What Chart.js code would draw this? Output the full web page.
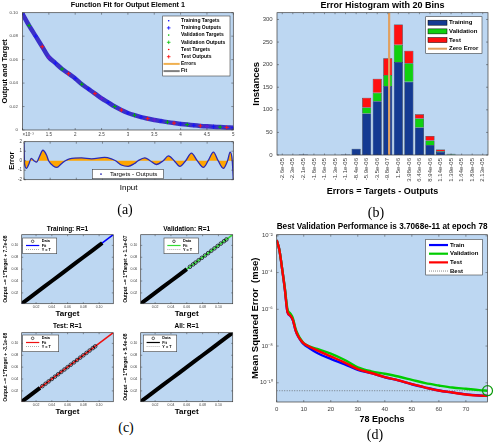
<!DOCTYPE html>
<html>
<head>
<meta charset="utf-8">
<title>Network fit results</title>
<script src="https://cdn.jsdelivr.net/npm/chart.js@4.4.1/dist/chart.umd.min.js"></script>
<style>
  html, body { margin: 0; padding: 0; background: #fff; }
  #fig { position: relative; width: 500px; height: 442px; overflow: hidden; }
  #fig canvas { position: absolute; }
  .panel { position: absolute; font: 14px "Liberation Serif", "DejaVu Serif", serif; color: #000; transform: translate(-50%, -50%); }
</style>
</head>
<body>
<div id="fig">
  <canvas id="fitChart" width="240" height="140" style="left:0px;top:0px"></canvas>
  <canvas id="errChart" width="240" height="56" style="left:0px;top:137px"></canvas>
  <canvas id="histChart" width="250" height="198" style="left:250px;top:0px"></canvas>
  <canvas id="regTrain" width="120" height="98" style="left:0px;top:222px"></canvas>
  <canvas id="regVal" width="120" height="98" style="left:120px;top:222px"></canvas>
  <canvas id="regTest" width="120" height="98" style="left:0px;top:320px"></canvas>
  <canvas id="regAll" width="120" height="98" style="left:120px;top:320px"></canvas>
  <canvas id="perfChart" width="250" height="208" style="left:250px;top:220px"></canvas>
  <div class="panel" style="left:125px;top:210px">(a)</div>
  <div class="panel" style="left:376px;top:213px">(b)</div>
  <div class="panel" style="left:126px;top:428px">(c)</div>
  <div class="panel" style="left:375px;top:435px">(d)</div>
</div>
<script>
// (a) function fit: input (x1e-3) and network output
const fitInput = [1, 1.125, 1.25, 1.375, 1.5, 1.625, 1.75, 1.875, 2, 2.125, 2.25, 2.375, 2.5, 2.625, 2.75, 2.875, 3,
                  3.125, 3.25, 3.375, 3.5, 3.625, 3.75, 3.875, 4, 4.125, 4.25, 4.375, 4.5, 4.625, 4.75, 4.875, 5];
const fitOutput = [0.099, 0.089, 0.080, 0.071, 0.062, 0.057, 0.052, 0.048, 0.044, 0.039, 0.035, 0.031, 0.027, 0.0235, 0.020, 0.017, 0.0145,
                   0.0126, 0.011, 0.0097, 0.0085, 0.0076, 0.0067, 0.0059, 0.0052, 0.0046, 0.0040, 0.0035, 0.0031, 0.0028, 0.0025, 0.0022, 0.0020];

// (a) error subplot (x1e-5)
const errInput = [1.00, 1.01, 1.05, 1.09, 1.14, 1.19, 1.24, 1.30, 1.36, 1.43, 1.47, 1.56, 1.63, 1.71, 1.79, 1.87, 2.10, 2.29, 2.54, 2.67, 2.75, 2.86,
                  2.99, 3.11, 3.18, 3.31, 3.41, 3.53, 3.66, 3.76, 3.87, 3.98, 4.09, 4.20, 4.31, 4.43, 4.52, 4.62, 4.71, 4.81, 4.89, 4.94, 4.98, 5.00];
const errValue = [1.9, -0.3, -0.8, -0.4, 0.25, 0.0, -0.15, 0.5, 1.1, 0.6, 0.0, -0.55, -0.7, -0.35, 0.0, 0.2, 0.3, 0.2, 0.35, 0.2, 0.0, -0.45,
                  -0.6, -0.3, 0.0, 0.3, 0.0, -0.4, 0.0, 0.5, 0.0, -0.6, 0.0, 0.8, 0.0, -0.7, 0.0, 0.9, 0.0, -0.8, 0.0, 0.9, 0.0, -2.0];

// (b) error histogram
const binLabels = ['-2.6e-05', '-2.3e-05', '-2.1e-05', '-1.8e-05', '-1.6e-05', '-1.3e-05', '-1.1e-05', '-8.4e-06', '-5.9e-06', '-3.5e-06',
                   '-9.8e-07', '1.5e-06', '3.98e-06', '6.46e-06', '8.94e-06', '1.14e-05', '1.39e-05', '1.64e-05', '1.89e-05', '2.13e-05'];
const trainCounts = [0, 0, 1, 0, 0, 0, 1, 14, 92, 119, 153, 206, 162, 61, 22, 7, 1, 0, 0, 0];
const valCounts   = [0, 0, 0, 0, 0, 0, 0, 0, 13, 19, 24, 38, 41, 20, 10, 2, 2, 0, 0, 0];
const testCounts  = [0, 0, 0, 0, 0, 0, 0, 0, 22, 31, 37, 45, 28, 9, 10, 3, 0, 0, 0, 0];
const histTicks = [0, 50, 100, 150, 200, 250, 300];
const histMax = 315;

// (c) regression: targets (outputs lie on them, R=1)
const regRange = [0.0018, 0.118];
const regTicks = [0.02, 0.04, 0.06, 0.08, 0.1];
const trainTargets = [0.0018, 0.01, 0.02, 0.03, 0.04, 0.05, 0.06, 0.07, 0.08, 0.09, 0.1, 0.104];
const valDense = [0.0018, 0.01, 0.02, 0.03, 0.04, 0.05, 0.06];
const valSparse = [0.064, 0.068, 0.071, 0.075, 0.079, 0.083, 0.087, 0.091, 0.095, 0.099, 0.103, 0.107, 0.11];
const testDense = [0.0018, 0.01, 0.02, 0.025];
const testSparse = [0.028, 0.032, 0.036, 0.04, 0.044, 0.048, 0.052, 0.056, 0.06, 0.064, 0.068, 0.072, 0.076, 0.08, 0.084, 0.088, 0.092, 0.095];
const allTargets = [0.0018, 0.01, 0.02, 0.03, 0.04, 0.05, 0.06, 0.07, 0.08, 0.09, 0.1, 0.11, 0.118];

// (d) training performance
const epochs = [0, 1, 2, 3, 4, 5, 6, 7, 8, 9, 10, 12, 15, 20, 25, 30, 35, 40, 45, 50, 55, 60, 65, 70, 75, 78];
const trainPerf = [5.9e-3, 1.66e-3, 1.6e-4, 1.3e-5, 7e-7, 4.5e-7, 2.5e-7, 7e-8, 3.2e-8, 1.9e-8, 1.26e-8, 7.9e-9, 4.2e-9, 2.0e-9, 1.05e-9,
                   5.1e-10, 3.4e-10, 2.0e-10, 1.35e-10, 8.3e-11, 5.5e-11, 3.8e-11, 2.95e-11, 2.35e-11, 2.05e-11, 1.95e-11];
const valPerf = [5.9e-3, 1.7e-3, 1.7e-4, 1.5e-5, 1.0e-6, 6e-7, 3.2e-7, 8.5e-8, 3.8e-8, 2.2e-8, 1.45e-8, 9.5e-9, 6.9e-9, 3.9e-9, 1.8e-9,
                 6.9e-10, 4.2e-10, 3.1e-10, 2.2e-10, 1.45e-10, 9.5e-11, 7.1e-11, 5.5e-11, 4.7e-11, 4.0e-11, 3.7068e-11];
const testPerf = [5.9e-3, 1.66e-3, 1.6e-4, 1.3e-5, 7e-7, 4.6e-7, 2.6e-7, 7.2e-8, 3.3e-8, 2.0e-8, 1.4e-8, 9.5e-9, 5.8e-9, 2.75e-9, 1.3e-9,
                  5.6e-10, 3.4e-10, 2.05e-10, 1.35e-10, 8.5e-11, 5.5e-11, 3.8e-11, 2.95e-11, 2.3e-11, 2.0e-11, 1.95e-11];
const bestEpoch = 78;
const bestPerf = 3.7068e-11;
const perfTicks = [1e-10, 1e-8, 1e-6, 1e-4, 1e-2];

const F = '"Liberation Sans", Arial, sans-serif';
Chart.defaults.font.family = F;
Chart.defaults.color = '#404040';
Chart.defaults.animation = false;
Chart.defaults.responsive = false;
Chart.defaults.devicePixelRatio = 1;
Chart.defaults.plugins.legend.display = false;
Chart.defaults.plugins.tooltip.enabled = false;
Chart.defaults.elements.point.radius = 0;

const plotBg = '#bdd7f2';
const markerCycle = ['#1414ff', '#00b000', '#1414ff', '#ff1414', '#6a1ad0', '#1414ff', '#00b000', '#ff1414'];

const xy = (xs, ys) => xs.map((x, i) => ({ x: x, y: ys[i] }));
const diag = arr => arr.map(v => ({ x: v, y: v }));
const fixW = w => s => { s.width = w; };
const fixH = h => s => { s.height = h; };
const font = (size, weight) => ({ family: F, size: size, weight: weight || 'normal' });
const noGrid = { display: false, drawTicks: false };

// light blue plot area, dark frame and small inward ticks
const framePlugin = {
  id: 'frame',
  beforeDraw(chart) {
    const { ctx, chartArea: a } = chart;
    ctx.save();
    ctx.fillStyle = plotBg;
    ctx.fillRect(a.left, a.top, a.right - a.left, a.bottom - a.top);
    ctx.restore();
  },
  afterDatasetsDraw(chart) {
    const { ctx, chartArea: a } = chart;
    ctx.save();
    ctx.strokeStyle = '#3c3c3c';
    ctx.lineWidth = 0.7;
    ctx.strokeRect(a.left, a.top, a.right - a.left, a.bottom - a.top);
    ctx.lineWidth = 0.5;
    Object.values(chart.scales).forEach(s => {
      const len = s.options.inTick;
      if (!len || !s.options.display) return;
      ctx.beginPath();
      s.ticks.forEach((t, i) => {
        const p = s.getPixelForTick(i);
        if (s.isHorizontal()) {
          ctx.moveTo(p, a.bottom); ctx.lineTo(p, a.bottom - len);
          ctx.moveTo(p, a.top); ctx.lineTo(p, a.top + len);
        } else {
          ctx.moveTo(a.left, p); ctx.lineTo(a.left + len, p);
          ctx.moveTo(a.right, p); ctx.lineTo(a.right - len, p);
        }
      });
      ctx.stroke();
    });
    ctx.restore();
  }
};
Chart.register(framePlugin);

// MATLAB style legend box inside the axes
function legendBox(spec) {
  return {
    id: 'legendBox',
    afterDraw(chart) {
      const { ctx, chartArea: a } = chart;
      const x0 = a.left + spec.x, y0 = a.top + spec.y;
      ctx.save();
      ctx.fillStyle = '#ffffff';
      ctx.fillRect(x0, y0, spec.w, spec.h);
      ctx.strokeStyle = '#404040';
      ctx.lineWidth = 0.6;
      ctx.strokeRect(x0, y0, spec.w, spec.h);
      ctx.font = spec.font;
      ctx.textBaseline = 'middle';
      spec.items.forEach((it, i) => {
        const cy = y0 + spec.pad + spec.rowH * (i + 0.5);
        const m0 = x0 + spec.mark[0], m1 = x0 + spec.mark[1];
        const mc = spec.markC !== undefined ? x0 + spec.markC : (m0 + m1) / 2;
        ctx.strokeStyle = it.color;
        ctx.fillStyle = it.color;
        if (it.type === 'line' || it.type === 'dotted') {
          ctx.setLineDash(it.type === 'dotted' ? [1, 1] : []);
          ctx.lineWidth = it.lw || 1;
          ctx.beginPath(); ctx.moveTo(m0, cy); ctx.lineTo(m1, cy); ctx.stroke();
          ctx.setLineDash([]);
        } else if (it.type === 'rect') {
          ctx.fillRect(m0, cy - spec.rectH / 2, m1 - m0, spec.rectH);
          ctx.lineWidth = 0.5; ctx.strokeStyle = '#000';
          ctx.strokeRect(m0, cy - spec.rectH / 2, m1 - m0, spec.rectH);
        } else if (it.type === 'dot') {
          ctx.beginPath(); ctx.arc(mc, cy, it.r || 0.8, 0, 2 * Math.PI); ctx.fill();
        } else if (it.type === 'plus') {
          const r = it.r || 1.8;
          ctx.lineWidth = 0.8;
          ctx.beginPath();
          ctx.moveTo(mc - r, cy); ctx.lineTo(mc + r, cy);
          ctx.moveTo(mc, cy - r); ctx.lineTo(mc, cy + r);
          ctx.stroke();
        } else if (it.type === 'circle') {
          ctx.lineWidth = 0.6;
          ctx.beginPath(); ctx.arc(mc, cy, it.r || 1.4, 0, 2 * Math.PI); ctx.stroke();
        }
        ctx.fillStyle = '#000';
        ctx.fillText(it.label, x0 + spec.textX, cy);
      });
      ctx.restore();
    }
  };
}

// axis exponent note (x10^-3) under the left end of the x axis
function axisNote(text, dx, dy, size) {
  return {
    id: 'axisNote',
    afterDraw(chart) {
      const { ctx, chartArea: a } = chart;
      ctx.save();
      ctx.font = size + 'px ' + F;
      ctx.fillStyle = '#404040';
      ctx.textBaseline = 'middle';
      ctx.fillText(text, a.left + dx, a.bottom + dy);
      ctx.restore();
    }
  };
}

// ---------- (a) top: output and target ----------
new Chart(document.getElementById('fitChart'), {
  type: 'scatter',
  data: {
    datasets: [
      { label: 'Outputs', data: xy(fitInput, fitOutput), showLine: false, pointStyle: 'cross', pointRadius: 2,
        pointBorderWidth: 1, pointBorderColor: fitInput.map((_, i) => markerCycle[i % markerCycle.length]) },
      { label: 'Targets', data: xy(fitInput, fitOutput), showLine: true, borderColor: '#3a30c8', borderWidth: 4.5, tension: 0.3 },
      { label: 'Fit', data: xy(fitInput, fitOutput), showLine: true, borderColor: '#8c8c8c', borderWidth: 1 }
    ]
  },
  options: {
    layout: { padding: { left: 0, top: 0, right: 6.7, bottom: 0 } },
    plugins: {
      title: { display: true, text: 'Function Fit for Output Element 1', color: '#000', fullSize: false,
               font: font(7.2, 'bold'), padding: { top: 0.7, bottom: 3.36 } }
    },
    scales: {
      x: { type: 'linear', min: 1, max: 5, grid: noGrid, border: { display: false }, inTick: 2,
           ticks: { stepSize: 0.5, font: font(4.5), padding: 2.3, maxRotation: 0, callback: v => (v === 1 ? '' : String(v)) },
           afterFit: fixH(10) },
      y: { min: 0, max: 0.1, grid: noGrid, border: { display: false }, inTick: 2,
           ticks: { stepSize: 0.02, font: font(4.3), padding: 4.7 },
           title: { display: true, text: 'Output and Target', color: '#000', font: font(7.5, 'bold'), padding: { top: 0, bottom: 0 } },
           afterFit: fixW(22.5) }
    }
  },
  plugins: [
    axisNote('\u00d710\u207b\u00b3', 0, 5.2, 4.5),
    legendBox({ x: 140.2, y: 3.3, w: 67.3, h: 60, pad: 1.1, rowH: 7.2, mark: [0.8, 17], markC: 6, textX: 18.3,
      font: 'bold 5px ' + F,
      items: [
        { label: 'Training Targets', type: 'dot', color: '#0000ff' },
        { label: 'Training Outputs', type: 'plus', color: '#0000ff' },
        { label: 'Validation Targets', type: 'dot', color: '#00c000' },
        { label: 'Validation Outputs', type: 'plus', color: '#00c000' },
        { label: 'Test Targets', type: 'dot', color: '#ff0000' },
        { label: 'Test Outputs', type: 'plus', color: '#ff0000' },
        { label: 'Errors', type: 'line', color: '#f0b050', lw: 2 },
        { label: 'Fit', type: 'line', color: '#808080', lw: 2 }
      ] })
  ]
});

// ---------- (a) bottom: error ----------
new Chart(document.getElementById('errChart'), {
  type: 'scatter',
  data: {
    datasets: [
      { label: 'Targets - Outputs', data: xy(errInput, errValue), showLine: true, borderColor: '#2a2ab4', borderWidth: 1.3,
        cubicInterpolationMode: 'monotone', fill: 'origin', backgroundColor: '#ffa500' }
    ]
  },
  options: {
    layout: { padding: { left: 0, top: 2, right: 6.7, bottom: 0 } },
    scales: {
      x: { type: 'linear', min: 1, max: 5, grid: noGrid, border: { display: false }, inTick: 2,
           ticks: { display: false, stepSize: 0.5 },
           title: { display: true, text: 'Input', color: '#000', font: font(8), padding: { top: 0, bottom: 0.9 } },
           afterFit: fixH(13.3) },
      y: { min: -2, max: 2, grid: noGrid, border: { display: false }, inTick: 2,
           ticks: { stepSize: 1, font: font(4.5), padding: 2 },
           title: { display: true, text: 'Error', color: '#000', font: font(7.5, 'bold'), padding: { top: 7.2, bottom: 0 } },
           afterFit: fixW(24) }
    }
  },
  plugins: [
    legendBox({ x: 68.3, y: 27.7, w: 71, h: 9.3, pad: 0, rowH: 9.3, mark: [5, 12.4], markC: 8.7, textX: 17.7,
      font: '6.2px ' + F,
      items: [{ label: 'Targets - Outputs', type: 'dot', color: '#2a2ab4', r: 0.9 }] })
  ]
});

// ---------- (b) error histogram ----------
const binCenters = binLabels.map(Number);
const halfBin = (binCenters[binCenters.length - 1] - binCenters[0]) / (binCenters.length - 1) / 2;

new Chart(document.getElementById('histChart'), {
  type: 'bar',
  data: {
    labels: binLabels,
    datasets: [
      { type: 'line', label: 'Zero Error', xAxisID: 'xz', data: [{ x: 0, y: 0 }, { x: 0, y: histMax }],
        borderColor: '#e0a060', borderWidth: 2.2, pointRadius: 0 },
      { label: 'Training', data: trainCounts, backgroundColor: '#143a92' },
      { label: 'Validation', data: valCounts, backgroundColor: '#10d010' },
      { label: 'Test', data: testCounts, backgroundColor: '#ff1010' }
    ]
  },
  options: {
    datasets: {
      bar: { grouped: false, barPercentage: 0.86, categoryPercentage: 1, borderColor: '#000', borderWidth: 0.5 }
    },
    layout: { padding: { left: 0, top: 0, right: 12, bottom: 0 } },
    plugins: {
      title: { display: true, text: 'Error Histogram with 20 Bins', color: '#000', fullSize: false,
               font: font(9, 'bold'), padding: { top: 0, bottom: 1.9 } }
    },
    scales: {
      x: { stacked: true, grid: noGrid, border: { display: false }, inTick: 1.5,
           ticks: { autoSkip: false, minRotation: 90, maxRotation: 90, font: font(6), padding: 3 },
           title: { display: true, text: 'Errors = Targets - Outputs', color: '#000', font: font(9, 'bold'), padding: { top: 0, bottom: 0.9 } },
           afterFit: fixH(43) },
      xz: { type: 'linear', display: false, min: binCenters[0] - halfBin, max: binCenters[binCenters.length - 1] + halfBin },
      y: { stacked: true, min: 0, max: histMax, grid: noGrid, border: { display: false }, inTick: 2,
           ticks: { font: font(6), padding: 4.3 },
           afterBuildTicks: s => { s.ticks = histTicks.map(v => ({ value: v })); },
           title: { display: true, text: 'Instances', color: '#000', font: font(9.5, 'bold'), padding: { top: 0.3, bottom: 0 } },
           afterFit: fixW(27) }
    }
  },
  plugins: [
    legendBox({ x: 148.7, y: 4, w: 56.3, h: 36.6, pad: 1.67, rowH: 8.67, mark: [2.3, 21.3], rectH: 5, textX: 23.3,
      font: 'bold 6px ' + F,
      items: [
        { label: 'Training', type: 'rect', color: '#143a92' },
        { label: 'Validation', type: 'rect', color: '#10d010' },
        { label: 'Test', type: 'rect', color: '#ff1010' },
        { label: 'Zero Error', type: 'line', color: '#e0a060', lw: 2 }
      ] })
  ]
});

// ---------- (c) regression plots ----------
function regChart(id, o) {
  const sets = [];
  if (o.sparse) {
    sets.push({ label: 'Data', data: diag(o.sparse), showLine: false, pointStyle: 'circle', pointRadius: 1.8,
                pointBorderWidth: 0.7, pointBorderColor: '#000', pointBackgroundColor: 'rgba(0,0,0,0)' });
  }
  sets.push({ label: 'Data', data: diag(o.dense), showLine: true, borderColor: '#000', borderWidth: 4 });
  sets.push({ label: 'Fit', data: diag(regRange), showLine: true, borderColor: o.fitColor, borderWidth: 1.5 });
  sets.push({ label: 'Y = T', data: diag(regRange), showLine: true, borderColor: '#777', borderWidth: 0.6, borderDash: [1, 1] });

  const axis = {
    type: 'linear', min: regRange[0], max: regRange[1], grid: noGrid, border: { display: false }, inTick: 1.5,
    afterBuildTicks: s => { s.ticks = regTicks.map(v => ({ value: v })); }
  };
  new Chart(document.getElementById(id), {
    type: 'scatter',
    data: { datasets: sets },
    options: {
      layout: { padding: { left: 0, top: 0, right: o.padR, bottom: 0 } },
      plugins: {
        title: { display: true, text: o.title, color: '#000', fullSize: false, font: font(6.5, 'bold'), padding: o.titlePad }
      },
      scales: {
        x: Object.assign({}, axis, {
          ticks: { font: font(3.5), padding: 1.5, maxRotation: 0 },
          title: { display: true, text: 'Target', color: '#000', font: font(8, 'bold'), padding: { top: 0, bottom: 1.5 } },
          afterFit: fixH(16.3)
        }),
        y: Object.assign({}, axis, {
          ticks: { font: font(3.5), padding: 3.4 },
          title: { display: true, text: o.yTitle, color: '#000', font: font(5, 'bold'), padding: { top: 3, bottom: 0 } },
          afterFit: fixW(o.yW)
        })
      }
    },
    plugins: [
      legendBox({ x: o.legend[0], y: o.legend[1], w: o.legend[2], h: o.legend[3], pad: 1.2, rowH: 4.2, mark: [3.3, 16.6],
        textX: 19, font: 'bold 3.8px ' + F,
        items: [
          { label: 'Data', type: 'circle', color: '#000', r: 1.3 },
          { label: 'Fit', type: 'line', color: o.fitColor, lw: 1.2 },
          { label: 'Y = T', type: 'dotted', color: '#777', lw: 0.6 }
        ] })
    ]
  });
}

regChart('regTrain', { title: 'Training: R=1', yTitle: 'Output ~= 1*Target + 7.7e-08', fitColor: '#0000ff',
  dense: trainTargets, yW: 21.7, padR: 6.7, titlePad: { top: 3.4, bottom: 1.5 }, legend: [1, 3.3, 34, 15.7] });
regChart('regVal', { title: 'Validation: R=1', yTitle: 'Output ~= 1*Target + 1.1e-07', fitColor: '#33dd33',
  dense: valDense, sparse: valSparse, yW: 20.7, padR: 7.3, titlePad: { top: 3.4, bottom: 1.5 }, legend: [23.3, 3.3, 34.3, 15.7] });
regChart('regTest', { title: 'Test: R=1', yTitle: 'Output ~= 1*Target + -3.1e-08', fitColor: '#ee1111',
  dense: testDense, sparse: testSparse, yW: 21.7, padR: 6.7, titlePad: { top: 2.1, bottom: 2.8 }, legend: [1, 2.3, 36, 16.7] });
regChart('regAll', { title: 'All: R=1', yTitle: 'Output ~= 1*Target + 5.4e-08', fitColor: '#000000',
  dense: allTargets, yW: 20.7, padR: 7.3, titlePad: { top: 2.1, bottom: 2.8 }, legend: [2.6, 2.3, 33.4, 16.7] });

// ---------- (d) performance ----------
const sup = { '-': '\u207b', '0': '\u2070', '1': '\u00b9', '2': '\u00b2', '3': '\u00b3', '4': '\u2074',
              '5': '\u2075', '6': '\u2076', '7': '\u2077', '8': '\u2078', '9': '\u2079' };
const pow10Label = v => '10' + String(Math.round(Math.log10(v))).split('').map(c => sup[c]).join('');

new Chart(document.getElementById('perfChart'), {
  type: 'line',
  data: {
    datasets: [
      { label: 'Best point', data: [{ x: bestEpoch, y: bestPerf }], showLine: false, pointRadius: 5, pointBorderWidth: 1.2,
        pointBorderColor: '#0a9a0a', pointBackgroundColor: 'rgba(0,0,0,0)', clip: false },
      { label: 'Test', data: xy(epochs, testPerf), borderColor: '#ff0000', borderWidth: 2.4, cubicInterpolationMode: 'monotone' },
      { label: 'Validation', data: xy(epochs, valPerf), borderColor: '#00cc00', borderWidth: 2.4, cubicInterpolationMode: 'monotone' },
      { label: 'Train', data: xy(epochs, trainPerf), borderColor: '#0000ff', borderWidth: 2.4, cubicInterpolationMode: 'monotone' },
      { label: 'Best', data: [{ x: 0, y: bestPerf }, { x: bestEpoch, y: bestPerf }], borderColor: '#555', borderWidth: 0.7, borderDash: [1, 1.5] }
    ]
  },
  options: {
    layout: { padding: { left: 0, top: 0, right: 12.5, bottom: 0 } },
    plugins: {
      title: { display: true, text: 'Best Validation Performance is 3.7068e-11 at epoch 78', color: '#000', fullSize: false,
               font: font(8.8, 'bold'), padding: { top: 1.4, bottom: 2.74 } }
    },
    scales: {
      x: { type: 'linear', min: 0, max: 78, grid: noGrid, border: { display: false }, inTick: 2,
           ticks: { stepSize: 10, font: font(6), padding: 3.5, maxRotation: 0 },
           afterBuildTicks: s => { s.ticks = s.ticks.filter(t => t.value % 10 === 0); },
           title: { display: true, text: '78 Epochs', color: '#000', font: font(9, 'bold'), padding: { top: 0, bottom: 2.6 } },
           afterFit: fixH(26) },
      y: { type: 'logarithmic', min: 9e-12, max: 1.15e-2, grid: noGrid, border: { display: false }, inTick: 2,
           ticks: { font: font(6), padding: 4, callback: v => pow10Label(v) },
           afterBuildTicks: s => { s.ticks = perfTicks.map(v => ({ value: v })); },
           title: { display: true, text: 'Mean Squared Error  (mse)', color: '#000', font: font(9.5, 'bold'), padding: { top: 0, bottom: 0 } },
           afterFit: fixW(26.7) }
    }
  },
  plugins: [
    legendBox({ x: 149, y: 4.6, w: 56.6, h: 35.7, pad: 1.4, rowH: 8.67, mark: [3.3, 22.3], textX: 24.3,
      font: 'bold 6px ' + F,
      items: [
        { label: 'Train', type: 'line', color: '#0000ff', lw: 2.2 },
        { label: 'Validation', type: 'line', color: '#00cc00', lw: 2.2 },
        { label: 'Test', type: 'line', color: '#ff0000', lw: 2.2 },
        { label: 'Best', type: 'dotted', color: '#555', lw: 0.7 }
      ] })
  ]
});
</script>
</body>
</html>
